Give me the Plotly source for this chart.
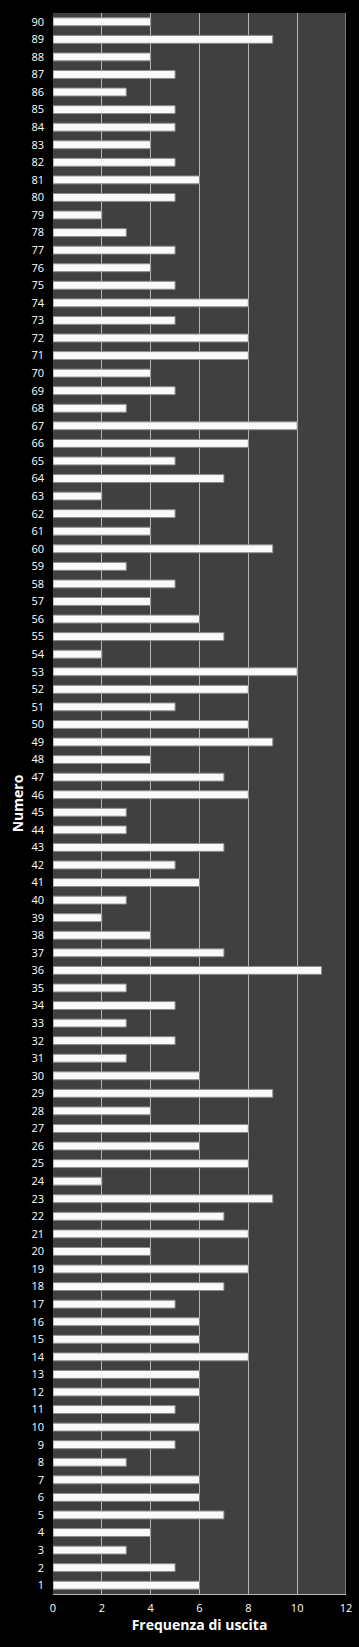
import plotly.graph_objects as go

numeri = list(range(1, 91))
frequenze = [6, 5, 3, 4, 7, 6, 6, 3, 5, 6,
             5, 6, 6, 8, 6, 6, 5, 7, 8, 4,
             8, 7, 9, 2, 8, 6, 8, 4, 9, 6,
             3, 5, 3, 5, 3, 11, 7, 4, 2, 3,
             6, 5, 7, 3, 3, 8, 7, 4, 9, 8,
             5, 8, 10, 2, 7, 6, 4, 5, 3, 9,
             4, 5, 2, 7, 5, 8, 10, 3, 5, 4,
             8, 8, 5, 8, 5, 4, 5, 3, 2, 5,
             6, 5, 4, 5, 5, 3, 5, 4, 9, 4]
x_ticks = [0, 2, 4, 6, 8, 10, 12]

fig = go.Figure()
fig.add_trace(go.Bar(
    x=frequenze, y=numeri, orientation="h",
    marker=dict(color="#fafafa", line=dict(color="#8c8c8c", width=1)),
    width=0.45,
))

font_family = "Open Sans, Liberation Sans, sans-serif"
fig.update_layout(
    width=359, height=1647,
    margin=dict(l=53, r=13, t=13, b=53),
    paper_bgcolor="#000000",
    plot_bgcolor="#404040",
    showlegend=False,
    font=dict(family=font_family, color="#ffffff", size=11),
    xaxis=dict(
        range=[0, 12], tickvals=x_ticks, showgrid=True, automargin=False,
        gridcolor="#b4b4b4", gridwidth=1, zeroline=False,
        showline=True, linecolor="#b4b4b4", mirror=False,
        ticks="", ticklabelstandoff=4, tickfont=dict(size=11, color="#ffffff"),
        title=dict(text="<b>Frequenza di uscita</b>", font=dict(size=14, color="#ffffff"), standoff=4),
    ),
    yaxis=dict(
        range=[0.5, 90.5], tickvals=numeri, ticktext=[str(n) for n in numeri],
        showgrid=False, zeroline=False, showline=False, automargin=False,
        ticks="", ticklabelstandoff=8, tickfont=dict(size=11, color="#ffffff"),
        title=dict(text="<b>Numero</b>", font=dict(size=14, color="#ffffff"), standoff=4),
    ),
)
fig.add_shape(type="line", xref="x", yref="paper", x0=12, x1=12, y0=0, y1=1,
              line=dict(color="#b4b4b4", width=1))

fig.write_html("out.html")
